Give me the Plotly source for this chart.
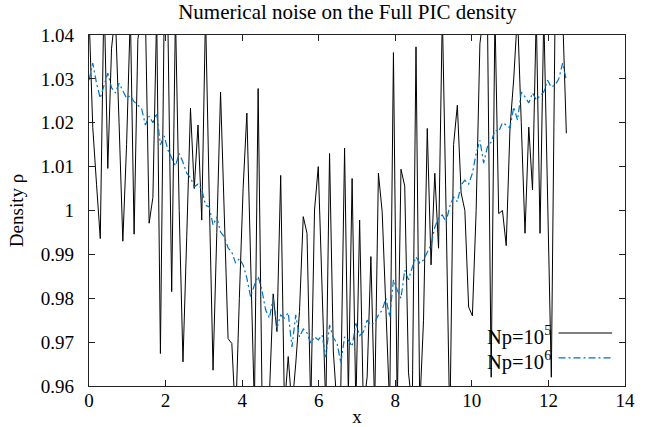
import numpy as np
import plotly.graph_objects as go

# grid: 128 cells over 4*pi
n_points = 128
domain_length = 4 * np.pi
x_vals = [i * domain_length / n_points for i in range(n_points)]

density_np1e5 = [
    1.045, 1.019, 1.006, 0.9936, 1.050, 1.0096, 1.037, 1.045, 1.020, 0.993,
    1.015, 1.045, 0.9946, 1.039, 1.045, 1.045, 0.9971, 1.003, 1.045, 0.9674,
    1.045, 1.042, 0.9815, 1.045, 1.000, 0.9655, 0.994, 1.0233, 1.005, 1.0195,
    0.9978, 1.045, 1.003, 0.9636, 0.995, 1.027, 0.999, 0.9708, 0.9697, 0.952,
    0.980, 1.005, 1.0222, 0.990, 0.955, 1.0278, 0.960, 0.950, 0.958, 0.981,
    0.9724, 1.008, 0.955, 0.9667, 0.955, 0.965, 0.977, 0.9986, 0.9948, 0.955,
    1.0001, 1.010, 0.980, 0.955, 1.013, 0.968, 0.955, 0.960, 1.0142, 0.958,
    1.0073, 0.955, 0.9978, 0.955, 0.962, 0.9895, 0.955, 1.0085, 0.9997, 0.975,
    0.955, 1.036, 0.955, 1.0094, 1.0056, 0.963, 0.955, 1.0373, 0.955, 0.975,
    1.0187, 0.9876, 1.0085, 0.9914, 1.045, 1.000, 0.950, 1.015, 1.024, 1.004,
    1.000, 0.978, 0.976, 1.000, 1.038, 1.045, 1.045, 0.962, 1.045, 0.9993,
    1.000, 0.992, 1.0187, 1.030, 1.045, 1.020, 0.9948, 1.019, 1.0047, 1.045,
    0.9948, 1.045, 1.000, 0.962, 1.045, 1.045, 1.045, 1.0176,
]

density_np1e6 = [
    1.0297, 1.0336, 1.0290, 1.0256, 1.0285, 1.0313, 1.0280, 1.0268, 1.0290, 1.0272,
    1.0256, 1.0262, 1.0248, 1.0240, 1.0232, 1.0195, 1.0215, 1.0200, 1.0222, 1.0150,
    1.0170, 1.0138, 1.0120, 1.0102, 1.0130, 1.0110, 1.0085, 1.0075, 1.0054, 1.0060,
    1.0048, 1.0012, 1.0008, 0.9967, 0.9985, 0.9951, 0.9940, 0.9915, 0.9905, 0.9880,
    0.9890, 0.9876, 0.9846, 0.9803, 0.9830, 0.9850, 0.9819, 0.9773, 0.9755, 0.9800,
    0.9732, 0.9762, 0.9755, 0.9767, 0.9689, 0.9762, 0.9712, 0.9730, 0.9721, 0.9698,
    0.9712, 0.9705, 0.9716, 0.9666, 0.9739, 0.9710, 0.9698, 0.9652, 0.9712, 0.9705,
    0.9690, 0.9743, 0.9715, 0.9723, 0.9750, 0.9739, 0.9745, 0.9762, 0.9773, 0.9800,
    0.9757, 0.9842, 0.9819, 0.9800, 0.9864, 0.9842, 0.9870, 0.9894, 0.9880, 0.9887,
    0.9905, 0.9921, 0.9962, 0.9983, 0.9990, 0.9974, 1.0010, 1.0031, 1.0020, 1.0058,
    1.0069, 1.0060, 1.0085, 1.0130, 1.0160, 1.0108, 1.0145, 1.0156, 1.0183, 1.0180,
    1.0200, 1.0195, 1.0188, 1.0236, 1.0206, 1.0270, 1.0259, 1.0245, 1.0268, 1.0252,
    1.0262, 1.0270, 1.0297, 1.0281, 1.0286, 1.0300, 1.0336, 1.0297,
]

x_ticks = [0, 2, 4, 6, 8, 10, 12, 14]
y_ticks = [0.96, 0.97, 0.98, 0.99, 1.00, 1.01, 1.02, 1.03, 1.04]
y_tick_text = ["0.96", "0.97", "0.98", "0.99", "1", "1.01", "1.02", "1.03", "1.04"]

FONT = "Liberation Serif, Times New Roman, serif"
BLUE = "#0072bd"
DASHDOT = "7px,3px,2px,3px"
FS = 19

fig = go.Figure()
fig.add_trace(go.Scatter(x=x_vals, y=density_np1e5, mode="lines",
                         line=dict(color="black", width=1), name="Np=10^5",
                         showlegend=False))
fig.add_trace(go.Scatter(x=x_vals, y=density_np1e6, mode="lines",
                         line=dict(color=BLUE, width=1.2, dash=DASHDOT),
                         name="Np=10^6", showlegend=False))

axis_common = dict(showline=True, linecolor="#222", linewidth=1.2, mirror="ticks",
                   ticks="inside", ticklen=6, tickcolor="#222", showgrid=False,
                   zeroline=False, automargin=False,
                   tickfont=dict(family=FONT, size=FS, color="black"))

fig.update_xaxes(range=[0, 14], tickvals=x_ticks, ticklabelstandoff=-3,
                 title=dict(text="x", font=dict(family=FONT, size=FS, color="black"), standoff=0),
                 **axis_common)
fig.update_yaxes(range=[0.96, 1.04], tickvals=y_ticks, ticktext=y_tick_text,
                 ticklabelstandoff=10,
                 title=dict(text="Density ρ", font=dict(family=FONT, size=FS, color="black"), standoff=12),
                 **axis_common)

# legend (gnuplot style: text then sample line)
leg_items = [("Np=10<sup>5</sup>", "black", "solid", 0.151),
             ("Np=10<sup>6</sup>", BLUE, DASHDOT, 0.080)]
for text, color, dash, ypos in leg_items:
    fig.add_annotation(x=0.866, y=ypos - 0.007, xref="paper", yref="paper", text=text,
                       showarrow=False, xanchor="right", yanchor="middle",
                       font=dict(family=FONT, size=20.5, color="black"))
    fig.add_shape(type="line", xref="paper", yref="paper", x0=0.876, x1=0.976,
                  y0=ypos, y1=ypos, line=dict(color=color, width=1.2, dash=dash))

fig.update_layout(
    width=651, height=427,
    margin=dict(l=89, r=26, t=35, b=41, autoexpand=False),
    paper_bgcolor="white", plot_bgcolor="white",
    title=dict(text="Numerical noise on the Full PIC density", x=0.5335, xanchor="center",
               y=0.972, yanchor="middle", font=dict(family=FONT, size=21, color="black")),
    font=dict(family=FONT),
)

fig.write_html("out.html", config={"displayModeBar": False},
               post_script="document.body.style.margin='0';")
